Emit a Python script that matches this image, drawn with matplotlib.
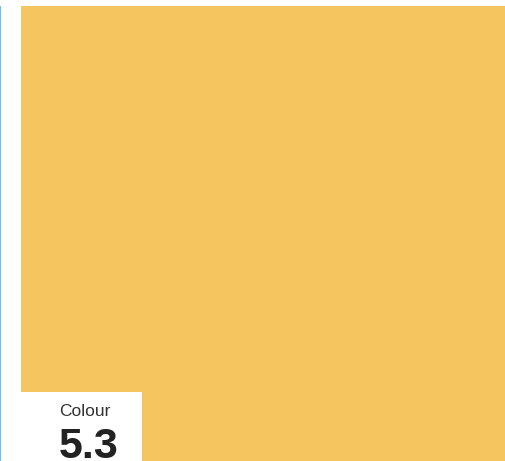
import matplotlib
matplotlib.use("Agg")
import matplotlib.pyplot as plt
from matplotlib.patches import Rectangle

labels = ["Colour"]
values = [5.3]
colors = ["#F5C660"]

W, H = 506, 461
fig = plt.figure(figsize=(W / 100, H / 100), dpi=100)
ax = fig.add_axes([0, 0, 1, 1])
ax.set_xlim(0, W)
ax.set_ylim(H, 0)
ax.axis("off")

# left accent line
ax.add_patch(Rectangle((0, 6), 1.5, H, facecolor="#5BC8F2", edgecolor="none", clip_on=False))
# tile
ax.add_patch(Rectangle((21, 6), W, H, facecolor=colors[0], edgecolor="none", clip_on=False))
# label box
ax.add_patch(Rectangle((21, 392), 121, H, facecolor="white", edgecolor="none", clip_on=False))
ax.text(85, 416, labels[0], ha="center", va="baseline", fontsize=12.5,
        family="Liberation Sans", color="#333333")
ax.text(89, 458, f"{values[0]}", ha="center", va="baseline", fontsize=31,
        family="Liberation Sans", fontweight="bold", color="#222222")

fig.savefig("out.png", dpi=100)
